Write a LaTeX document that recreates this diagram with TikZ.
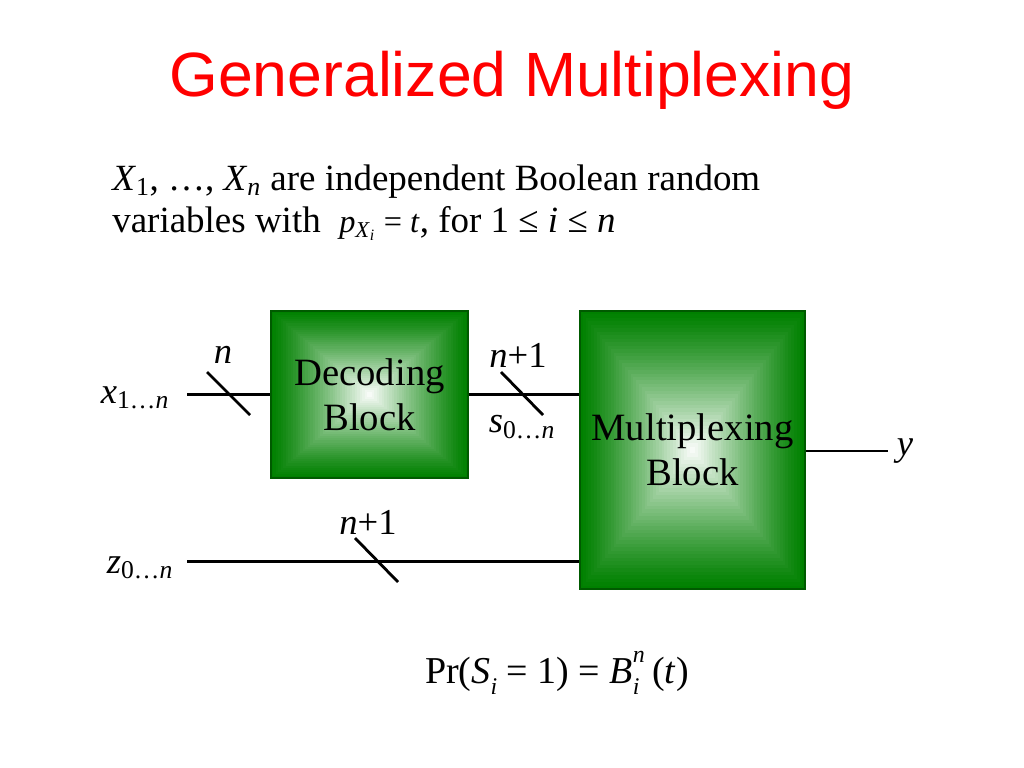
\documentclass[tikz,border=0pt]{standalone}
\usepackage{fontspec}
\setmainfont{Liberation Serif}
\newfontfamily\titlefont{Liberation Sans}
\usetikzlibrary{calc}
\definecolor{blockgreen}{RGB}{0,128,0}
\definecolor{blockedge}{RGB}{0,90,0}
\definecolor{titlered}{RGB}{255,0,0}

\begin{document}
\begin{tikzpicture}
  [x=0.025cm,y=-0.025cm]
      \tikzstyle{wire_style} = [draw=black, line width=2pt]
      \tikzstyle{block_style} = [draw=blockedge, line width=1pt, align=center,
        font=\fontsize{27.5}{32}\selectfont,
        path picture={\foreach \k in {0,...,40} {
          \pgfmathsetmacro\w{100*(1-(\k/40)^1.2)}
          \fill[blockgreen!\w!white]
            ($(path picture bounding box.center)!{1-\k/40}!(path picture bounding box.south west)$)
            rectangle
            ($(path picture bounding box.center)!{1-\k/40}!(path picture bounding box.north east)$);}}]
      \tikzstyle{label_style} = [font=\fontsize{26}{30}\selectfont, inner sep=0pt]
  \useasboundingbox (0,0) rectangle (1024,768);
  \node[font=\titlefont\fontsize{44.5}{50}\selectfont, text=titlered, anchor=base] (title) at (512,97) {Generalized Multiplexing};
  \node[label_style, font=\fontsize{26.3}{30}\selectfont, anchor=base west] (line1) at (112,190)
    {\textit{X}\textsubscript{1}, …, \textit{X}\textsubscript{\textit{n}} are independent Boolean random};
  \node[label_style, font=\fontsize{26.3}{30}\selectfont, anchor=base west] (line2) at (112,232)
    {variables with \ {\fontsize{23}{28}\selectfont\textit{p}\textsubscript{\textit{X}\textsubscript{\textit{i}}} = \textit{t}}, for 1 ≤ \textit{i} ≤ \textit{n}};
  \node[block_style, minimum width=4.93cm, minimum height=4.18cm] (dec) at (369.5,394.5) {Decoding\\Block};
  \node[block_style, minimum width=5.63cm, minimum height=6.95cm] (mux) at (692.5,450) {Multiplexing\\Block};
  \coordinate (xin) at (187,394.5);
  \coordinate (zin) at (187,561.5);
  \coordinate (yout) at (888,451);
  \draw[wire_style] (xin) -- (dec.west);
  \draw[wire_style] (dec.east) -- (dec.east -| mux.west);
  \draw[wire_style] (zin) -- (zin -| mux.west);
  \draw[wire_style] (yout -| mux.east) -- (yout);
  \draw[wire_style] (228.5,393.5) +(-21.5,-21.5) -- +(21.5,21.5);
  \draw[wire_style] (522,393.5) +(-21,-21.5) -- +(21,21.5);
  \draw[wire_style] (376.5,560) +(-21.5,-22) -- +(21.5,22);
  \node[label_style] (xlab) at (135,398) {\textit{x}\textsubscript{1…\textit{n}}};
  \node[label_style] (zlab) at (140,568) {\textit{z}\textsubscript{0…\textit{n}}};
  \node[label_style] (nlab) at (223,355) {\textit{n}};
  \node[label_style] (slab) at (518,355) {\textit{n}+1};
  \node[label_style] (sname) at (522,427) {\textit{s}\textsubscript{0…\textit{n}}};
  \node[label_style] (zwidth) at (368,522) {\textit{n}+1};
  \node[label_style] (ylab) at (905,451) {\textit{y}};
  \node[label_style, font=\fontsize{27}{30}\selectfont, anchor=base] (prob) at (557,683)
    {Pr(\textit{S}\raisebox{-0.3em}{\fontsize{17}{17}\selectfont\textit{i}} = 1) = \textit{B}\rlap{\raisebox{0.55em}{\fontsize{17}{17}\selectfont\textit{n}}}\raisebox{-0.3em}{\fontsize{17}{17}\selectfont\textit{i}}\,\,(\textit{t})};
\end{tikzpicture}
\end{document}
